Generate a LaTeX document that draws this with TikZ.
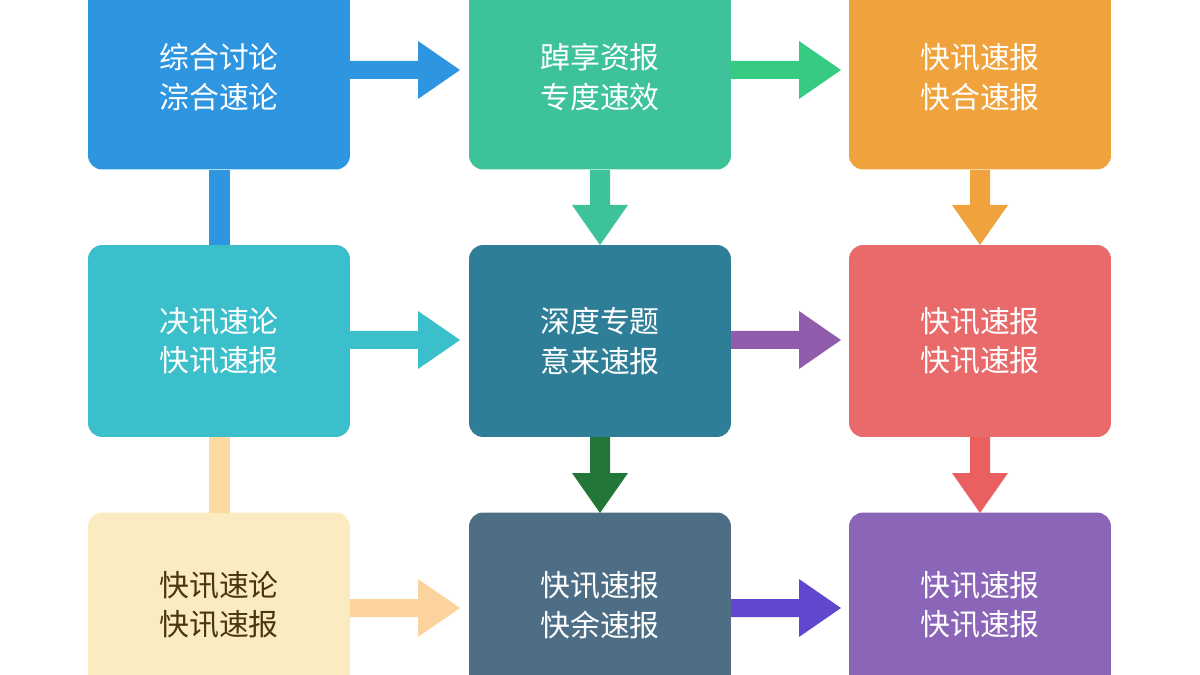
\documentclass[tikz,border=0pt]{standalone}
\usepackage{fontspec}
\newfontfamily\cjk{Noto Sans CJK SC}
\definecolor{cA}{HTML}{2E96E0}
\definecolor{cB}{HTML}{3EC29A}
\definecolor{cC}{HTML}{F0A23C}
\definecolor{cD}{HTML}{3BBFCB}
\definecolor{cE}{HTML}{2E7E97}
\definecolor{cF}{HTML}{E86A6A}
\definecolor{cG}{HTML}{FBEBC0}
\definecolor{cH}{HTML}{4E6E85}
\definecolor{cI}{HTML}{8B66B8}
\definecolor{tG}{HTML}{4A3510}
\begin{document}
\begin{tikzpicture}[x=0.02cm,y=-0.02cm,
  box/.style={rounded corners=8pt,minimum width=5.24cm,text width=5.2cm,align=center,inner sep=0pt,
    font=\cjk\fontsize{17}{22.5}\selectfont,text=white},
  ]
\useasboundingbox (0,0) rectangle (1200,675);
\newcommand\harr[4]{% x0 x1 y color
  \fill[#4] (#1,#3-9) -- (#2-42,#3-9) -- (#2-42,#3-29) -- (#2,#3) -- (#2-42,#3+29) -- (#2-42,#3+9) -- (#1,#3+9) -- cycle;}
\newcommand\varr[4]{% x y0 y1 color
  \fill[#4] (#1-10,#2) -- (#1-10,#3-40) -- (#1-28,#3-40) -- (#1,#3) -- (#1+28,#3-40) -- (#1+10,#3-40) -- (#1+10,#2) -- cycle;}
% boxes
\node[box,fill=cA,minimum height=3.7cm] (a) at (219,77) {综合讨论\\淙合速论};
\node[box,fill=cB,minimum height=3.7cm] (b) at (600,77) {踔享资报\\专度速效};
\node[box,fill=cC,minimum height=3.7cm] (c) at (980,77) {快讯速报\\快合速报};
\node[box,fill=cD,minimum height=3.84cm] (d) at (219,341) {决讯速论\\快讯速报};
\node[box,fill=cE,minimum height=3.84cm] (e) at (600,341) {深度专题\\意来速报};
\node[box,fill=cF,minimum height=3.84cm] (f) at (980,341) {快讯速报\\快讯速报};
\node[box,fill=cG,text=tG,minimum height=3.7cm] (g) at (219,605) {快讯速论\\快讯速报};
\node[box,fill=cH,minimum height=3.7cm] (h) at (600,605) {快讯速报\\快余速报};
\node[box,fill=cI,minimum height=3.7cm] (i) at (980,605) {快讯速报\\快讯速报};
% connectors
\harr{350}{460}{70}{cA}
\harr{731}{841}{70}{cB!85!green}
\harr{350}{460}{340}{cD}
\harr{731}{841}{340}{cI!90!purple}
\harr{350}{460}{608}{cG!60!orange!70!white}
\harr{731}{841}{608}{cI!70!blue}
\fill[cA] (209,170) rectangle (230,245);
\fill[cG!85!orange] (209,437) rectangle (230,513);
\varr{600}{170}{245}{cB}
\varr{980}{170}{245}{cC}
\varr{600}{437}{513}{cH!60!green!70!black}
\varr{980}{437}{513}{cF!90!red}
\end{tikzpicture}
\end{document}
